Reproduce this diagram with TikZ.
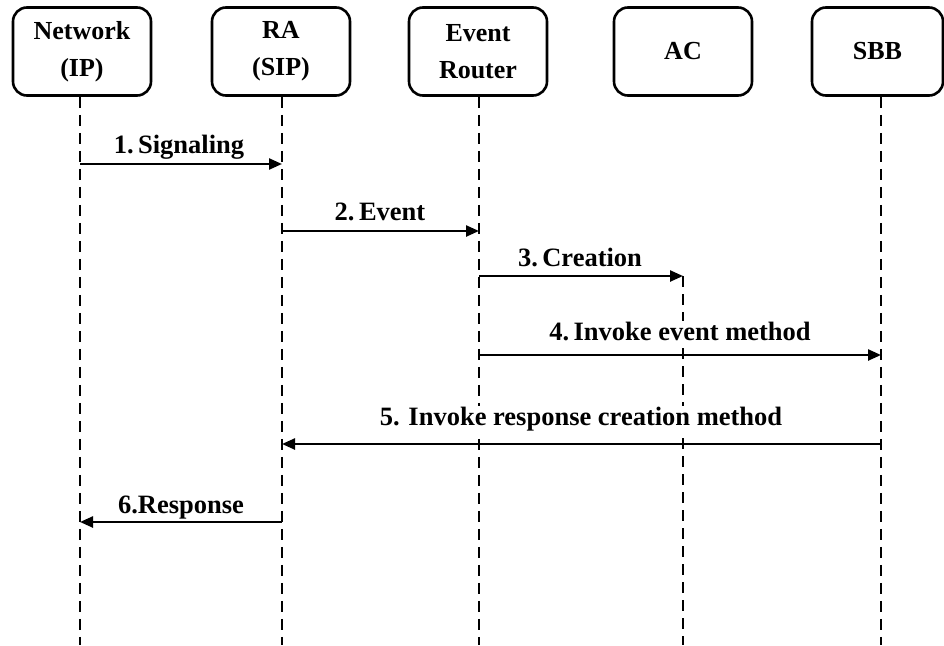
\documentclass[tikz,border=0pt]{standalone}
\usepackage{fontspec}
\setmainfont{Liberation Serif}
\usetikzlibrary{arrows.meta}
\begin{document}
\begin{tikzpicture}[x=1pt,y=-1pt,
  actor/.style={draw=black,line width=2.6pt,rounded corners=14pt,minimum width=138pt,minimum height=88pt,inner sep=0pt,align=center,font=\fontsize{26}{37}\selectfont\bfseries},
  life/.style={line width=2.6pt,dash pattern=on 11pt off 7pt},
  msg/.style={line width=2.4pt,-{Triangle[length=13pt,width=11pt]}},
  lbl/.style={anchor=base,inner sep=1pt,fill=white,font=\fontsize{26.5}{30}\selectfont\bfseries}]
\useasboundingbox (0,0) rectangle (944,645);
\node[actor] (net) at (82,51.5) {Network\\(IP)};
\node[actor] (ra) at (281,51.5) {RA\\(SIP)};
\node[actor] (er) at (478,51.5) {Event\\Router};
\node[actor] (ac) at (683,51.5) {AC};
\node[actor,minimum width=131pt] (sbb) at (877.5,51.5) {SBB};
% lifeline ends
\coordinate (netB) at (80,645);
\coordinate (raB) at (282,645);
\coordinate (erB) at (479,645);
\coordinate (acB) at (683,645);
\coordinate (sbbB) at (881,645);
% message end points
\coordinate (m1a) at (80,164);  \coordinate (m1b) at (282,164);
\coordinate (m2a) at (282,231); \coordinate (m2b) at (479,231);
\coordinate (m3a) at (479,276); \coordinate (m3b) at (683,276);
\coordinate (m4a) at (479,355); \coordinate (m4b) at (881,355);
\coordinate (m5a) at (881,444); \coordinate (m5b) at (282,444);
\coordinate (m6a) at (282,522); \coordinate (m6b) at (80,522);
% lifelines
\draw[life] (net.south -| netB) -- (netB);
\draw[life] (ra.south -| raB) -- (raB);
\draw[life] (er.south -| erB) -- (erB);
\draw[life] (m3b) -- (acB);
\draw[life] (sbb.south -| sbbB) -- (sbbB);
% messages
\draw[msg] (m1a) -- (m1b);
\draw[msg] (m2a) -- (m2b);
\draw[msg] (m3a) -- (m3b);
\draw[msg] (m4a) -- (m4b);
\draw[msg] (m5a) -- (m5b);
\draw[msg] (m6a) -- (m6b);
% labels
\node[lbl] (l1) at (179,153) {1.\,Signaling};
\node[lbl] (l2) at (380,220) {2.\,Event};
\node[lbl] (l3) at (580,266) {3.\,Creation};
\node[lbl] (l4) at (680,340) {4.\,Invoke event method};
\node[lbl] (l5) at (581,425) {5. Invoke response creation method};
\node[lbl] (l6) at (181,513) {6.Response};
\end{tikzpicture}
\end{document}
